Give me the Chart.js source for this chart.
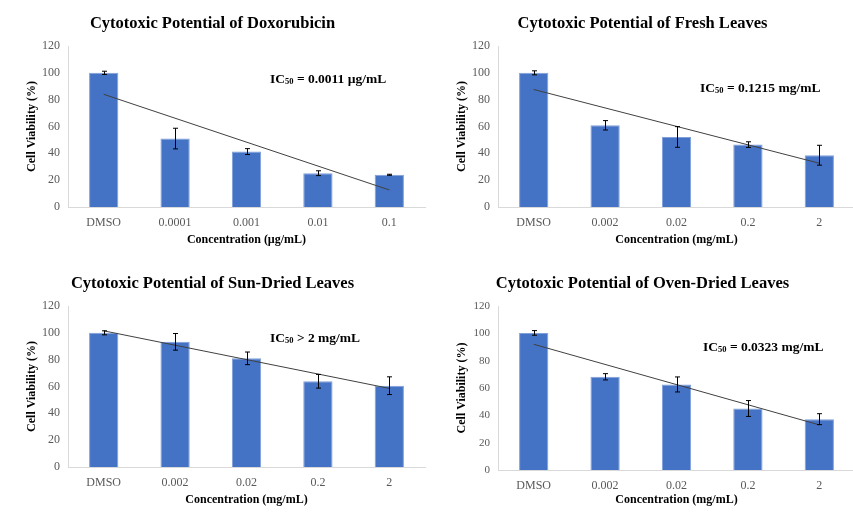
<!DOCTYPE html>
<html>
<head>
<meta charset="utf-8">
<script src="https://cdn.jsdelivr.net/npm/chart.js@4/dist/chart.umd.min.js"></script>
<style>
  html, body { margin: 0; padding: 0; background: #fff; overflow: hidden; }
  body { width: 853px; height: 512px; position: relative; }
  .panel { position: absolute; }
</style>
</head>
<body>
<div class="panel" style="left:0;top:0"><canvas id="dox" width="446" height="252"></canvas></div>
<div class="panel" style="left:430px;top:0"><canvas id="fresh" width="452" height="252"></canvas></div>
<div class="panel" style="left:0;top:260px"><canvas id="sun" width="446" height="252"></canvas></div>
<div class="panel" style="left:430px;top:260px"><canvas id="oven" width="452" height="252"></canvas></div>
<script>
// categories
const doxLabels = ['DMSO', '0.0001', '0.001', '0.01', '0.1'];
const leafLabels = ['DMSO', '0.002', '0.02', '0.2', '2'];

// cell viability (%) and error (+/-)
const doxViability = [100, 51, 41.3, 25.2, 24];
const doxError = [1.2, 7.7, 2.2, 1.8, 0.4];
const freshViability = [100, 60.9, 52.2, 46.5, 38.6];
const freshError = [1.5, 3.5, 7.7, 2.1, 7.4];
const sunViability = [100, 93.3, 81, 63.9, 60.6];
const sunError = [1.5, 6.2, 4.7, 5.1, 6.6];
const ovenViability = [100.3, 68.2, 62.6, 45, 37.2];
const ovenError = [1.7, 2.3, 5.5, 5.8, 4];

// linear trendline ends
const doxTrend = [84, null, null, null, 12.7];
const freshTrend = [87.6, null, null, null, 32.6];
const sunTrend = [101.5, null, null, null, 58.6];
const ovenTrend = [92, null, null, null, 33];

// y axis ticks
const yMin = 0, yMax = 120, yStep = 20;

const serif = '"Liberation Serif", "Times New Roman", serif';
Chart.defaults.font.family = serif;

// draws the +/- error bars on top of the columns
const errorBars = {
  id: 'errorBars',
  afterDatasetsDraw(chart, args, opts) {
    const ctx = chart.ctx;
    const meta = chart.getDatasetMeta(1);
    const y = chart.scales.y;
    const vals = chart.data.datasets[1].data;
    ctx.save();
    ctx.strokeStyle = '#000';
    ctx.lineWidth = 1;
    meta.data.forEach((bar, i) => {
      const e = opts.errors[i];
      const top = y.getPixelForValue(vals[i] + e);
      const bot = y.getPixelForValue(vals[i] - e);
      const x = Math.round(bar.x) + 0.5;
      ctx.beginPath();
      ctx.moveTo(x, top); ctx.lineTo(x, bot);
      ctx.moveTo(x - 2.5, top); ctx.lineTo(x + 2.5, top);
      ctx.moveTo(x - 2.5, bot); ctx.lineTo(x + 2.5, bot);
      ctx.stroke();
    });
    ctx.restore();
  }
};

// IC50 label with subscript
const icLabel = {
  id: 'icLabel',
  afterDraw(chart, args, opts) {
    const ctx = chart.ctx;
    let x = opts.x;
    const y = opts.y;
    ctx.save();
    ctx.fillStyle = '#000';
    ctx.textBaseline = 'middle';
    ctx.font = 'bold 13.5px ' + serif;
    ctx.fillText('IC', x, y);
    x += ctx.measureText('IC').width;
    ctx.font = 'bold 8.5px ' + serif;
    ctx.fillText('50', x, y + 2);
    x += ctx.measureText('50').width;
    ctx.font = 'bold 13.5px ' + serif;
    ctx.fillText(opts.rest, x, y);
    ctx.restore();
  }
};

function makePanel(id, labels, values, errors, trend, title, xTitle, icRest, geo) {
  new Chart(document.getElementById(id), {
    type: 'bar',
    data: {
      labels: labels,
      datasets: [
        {
          type: 'line',
          data: trend,
          spanGaps: true,
          borderColor: '#404040',
          borderWidth: 1,
          pointRadius: 0,
          order: 0
        },
        {
          type: 'bar',
          data: values,
          backgroundColor: '#4472C4',
          borderColor: '#7f9fdb',
          borderWidth: 1,
          barPercentage: 0.41,
          categoryPercentage: 1,
          order: 1
        }
      ]
    },
    options: {
      responsive: false,
      animation: false,
      devicePixelRatio: 1,
      layout: { padding: { left: 0, right: geo.padRight, top: 0, bottom: 0 } },
      plugins: {
        legend: { display: false },
        tooltip: { enabled: false },
        title: {
          display: true,
          text: title,
          color: '#000',
          font: { size: 16.5, weight: 'bold' },
          padding: { top: 14, bottom: 12.2 }
        },
        errorBars: { errors: errors },
        icLabel: { x: geo.icX, y: geo.icY, rest: icRest }
      },
      scales: {
        x: {
          grid: { display: false, drawTicks: false },
          border: { display: true, color: '#d9d9d9' },
          ticks: { color: '#595959', font: { size: 12 }, padding: 9 },
          title: {
            display: true,
            text: xTitle,
            color: '#000',
            font: { size: 12, weight: 'bold' },
            padding: { top: 0, bottom: 5 }
          },
          afterFit(scale) { scale.height = geo.xHeight; }
        },
        y: {
          min: yMin,
          max: yMax,
          grid: { display: false, drawTicks: false },
          border: { display: true, color: '#d9d9d9' },
          ticks: { stepSize: yStep, color: '#595959', font: { size: geo.yTickSize }, padding: 8 },
          title: {
            display: true,
            text: 'Cell Viability (%)',
            color: '#000',
            font: { size: 12, weight: 'bold' },
            padding: { top: 24.5, bottom: 0 }
          },
          afterFit(scale) { scale.width = 68; }
        }
      }
    },
    plugins: [errorBars, icLabel]
  });
}

makePanel('dox', doxLabels, doxViability, doxError, doxTrend,
  'Cytotoxic Potential of Doxorubicin', 'Concentration (µg/mL)', ' = 0.0011 µg/mL',
  { padRight: 21, xHeight: 45, yTickSize: 12, icX: 270, icY: 80 });
makePanel('fresh', leafLabels, freshViability, freshError, freshTrend,
  'Cytotoxic Potential of Fresh Leaves', 'Concentration (mg/mL)', ' = 0.1215 mg/mL',
  { padRight: 27, xHeight: 45, yTickSize: 12, icX: 270, icY: 89 });
makePanel('sun', leafLabels, sunViability, sunError, sunTrend,
  'Cytotoxic Potential of Sun-Dried Leaves', 'Concentration (mg/mL)', ' > 2 mg/mL',
  { padRight: 21, xHeight: 45, yTickSize: 12, icX: 270, icY: 79 });
makePanel('oven', leafLabels, ovenViability, ovenError, ovenTrend,
  'Cytotoxic Potential of Oven-Dried Leaves', 'Concentration (mg/mL)', ' = 0.0323 mg/mL',
  { padRight: 27, xHeight: 42, yTickSize: 11, icX: 273, icY: 88 });
</script>
</body>
</html>
